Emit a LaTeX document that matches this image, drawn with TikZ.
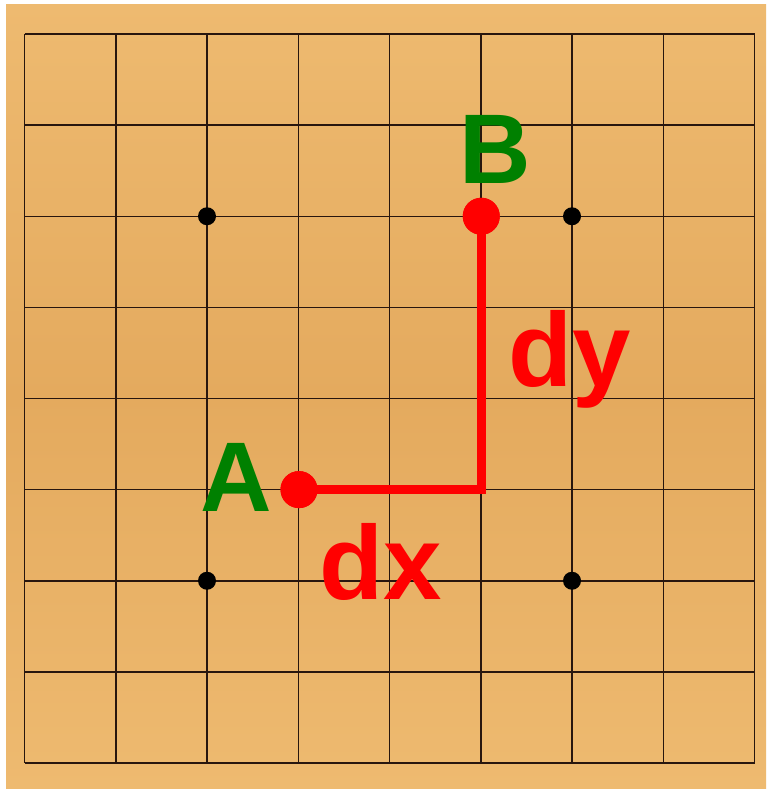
\documentclass[tikz,border=0pt]{standalone}
\usepackage{fontspec}
\setmainfont{Liberation Sans}
\definecolor{woodA}{RGB}{238,186,112}
\definecolor{woodB}{RGB}{228,170,94}
\definecolor{gridc}{RGB}{40,22,14}
\definecolor{labgreen}{RGB}{0,128,0}
\definecolor{labred}{RGB}{255,0,0}
\tikzset{
  gridline/.style={draw=gridc, line width=1.5pt},
  star/.style={circle, fill=black, inner sep=0pt, minimum size=18pt},
  stone/.style={circle, fill=labred, inner sep=0pt, minimum size=37pt},
  path/.style={draw=labred, line width=9pt},
  caplab/.style={inner sep=0pt, text=labgreen, font=\fontsize{99}{99}\selectfont\bfseries},
  lowlab/.style={inner sep=0pt, text=labred, font=\fontsize{105}{105}\selectfont\bfseries},
}
\begin{document}
\begin{tikzpicture}[x=1pt,y=-1pt]
\useasboundingbox (0,0) rectangle (768,790);
\fill[white] (0,0) rectangle (768,790);
\shade[top color=woodA, bottom color=woodA, middle color=woodB] (6,4) rectangle (766,788);
\foreach \i in {0,...,8} {
  \draw[gridline] ({24.5+91.25*\i},34) -- ({24.5+91.25*\i},763);
  \draw[gridline] (24.5,{34+91.125*\i}) -- (754.5,{34+91.125*\i});
}
\node[star] (s1) at (207,216.25) {};
\node[star] (s2) at (572,216.25) {};
\node[star] (s3) at (207,580.75) {};
\node[star] (s4) at (572,580.75) {};
\coordinate (corner) at (481.25,489.6);
\node[stone] (A) at (299,489.6) {};
\node[stone] (B) at (481.25,216.25) {};
\draw[path] (A.center) -- (corner) -- (B.center);
\node[stone] at (A) {};
\node[stone] at (B) {};
\node[caplab, anchor=base] (labA) at (236,511) {A};
\node[caplab, anchor=base] (labB) at (495.5,183) {B};
\node[lowlab, anchor=base west] (labdx) at (319,599) {dx};
\node[lowlab, anchor=base west] (labdy) at (508,386) {dy};
\end{tikzpicture}
\end{document}
